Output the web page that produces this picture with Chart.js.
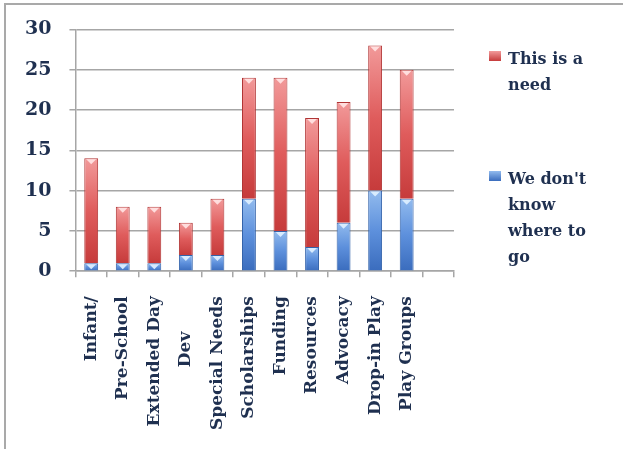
<!DOCTYPE html>
<html>
<head>
<meta charset="utf-8">
<script src="https://cdn.jsdelivr.net/npm/chart.js@4.4.1/dist/chart.umd.min.js"></script>
<style>
    html, body { margin: 0; padding: 0; background: #fff; }
    #wrap { position: relative; width: 623px; height: 449px; overflow: hidden; }
    #frame {
        position: absolute; left: 4px; top: 3px; width: 640px; height: 444px;
        border-top: 2px solid #a9a9a9; border-left: 2px solid #a9a9a9;
        border-bottom: 1px solid #dedede; pointer-events: none;
    }
    #legend {
        position: absolute; left: 489px; top: 46px; width: 110px;
        font-family: 'DejaVu Serif', serif; font-weight: bold; font-size: 16px;
        color: #1f3050; line-height: 26px;
    }
    .item { position: relative; padding-left: 19px; width: 92px; }
    .item + .item { margin-top: 68px; }
    .swatch { position: absolute; left: 0; top: 5px; width: 12px; height: 10px; }
</style>
</head>
<body>
<div id="wrap">
    <canvas id="chart"></canvas>
    <div id="legend"></div>
    <div id="frame"></div>
</div>
<script>
// Kategori survei (slot terakhir sengaja kosong)
const categories = ['Infant/', 'Pre-School', 'Extended Day', 'Dev\u00a0\u00a0\u00a0\u00a0\u00a0\u00a0', 'Special Needs',
    'Scholarships', 'Funding', 'Resources', 'Advocacy', 'Drop-in Play', 'Play Groups', ''];
const dontKnow = [1, 1, 1, 2, 2, 9, 5, 3, 6, 10, 9, null];
const isNeed = [13, 7, 7, 4, 7, 15, 19, 16, 15, 18, 16, null];
const yTicks = [0, 5, 10, 15, 20, 25, 30];

const textColor = '#1f3050';
const gridColor = '#a6a6a6';

// Gradasi vertikal per segmen batang: terang di atas, gelap di bawah
function segmentFill(ctx, stops, lower, upper) {
    const chart = ctx.chart;
    const y = chart.scales.y;
    const fallback = stops[stops.length - 1];
    if (!chart.chartArea || !y || ctx.type !== 'data') return fallback;
    const i = ctx.dataIndex;
    const start = lower ? lower[i] : 0;
    const top = y.getPixelForValue(start + upper[i]);
    const bottom = y.getPixelForValue(start);
    if (!isFinite(top) || !isFinite(bottom) || top === bottom) return fallback;
    const g = chart.ctx.createLinearGradient(0, top, 0, bottom);
    stops.forEach((c, k) => g.addColorStop(k / (stops.length - 1), c));
    return g;
}

const blueStops = ['#92bbee', '#5d90dc', '#3a6cbd'];
const redStops = ['#f29a9a', '#df5c5c', '#c63b3b'];

// Segitiga kecil di ujung atas tiap segmen
const bevelPlugin = {
    id: 'bevel',
    afterDatasetsDraw(chart) {
        const c = chart.ctx;
        const tints = ['rgba(220,238,255,0.95)', 'rgba(255,225,225,0.95)'];
        chart.data.datasets.forEach((ds, di) => {
            const meta = chart.getDatasetMeta(di);
            meta.data.forEach((bar, i) => {
                if (ds.data[i] == null) return;
                const p = bar.getProps(['x', 'y', 'width'], true);
                const half = p.width / 2 - 2;
                c.save();
                c.fillStyle = tints[di];
                c.beginPath();
                c.moveTo(p.x - half, p.y + 1);
                c.lineTo(p.x + half, p.y + 1);
                c.lineTo(p.x, p.y + 6);
                c.closePath();
                c.fill();
                c.restore();
            });
        });
    }
};

const canvas = document.getElementById('chart');
canvas.width = 623;
canvas.height = 449;

const chart = new Chart(canvas, {
    type: 'bar',
    data: {
        labels: categories,
        datasets: [
            {
                label: "We don't know where to go",
                data: dontKnow,
                backgroundColor: ctx => segmentFill(ctx, blueStops, null, dontKnow),
                borderColor: '#3463aa',
                borderWidth: 1,
                swatch: 'linear-gradient(#92bbee, #3a6cbd)'
            },
            {
                label: 'This is a need',
                data: isNeed,
                backgroundColor: ctx => segmentFill(ctx, redStops, dontKnow, isNeed),
                borderColor: '#b03535',
                borderWidth: 1,
                swatch: 'linear-gradient(#f29a9a, #c63b3b)'
            }
        ]
    },
    options: {
        responsive: false,
        animation: false,
        barPercentage: 0.44,
        categoryPercentage: 1,
        layout: { padding: { left: 7, right: 169, top: 27, bottom: 0 } },
        plugins: {
            legend: { display: false },
            tooltip: { enabled: false }
        },
        scales: {
            x: {
                stacked: true,
                offset: true,
                grid: {
                    offset: true,
                    drawOnChartArea: false,
                    color: gridColor,
                    lineWidth: 1.5,
                    tickLength: 6
                },
                border: { color: gridColor, width: 1.5 },
                ticks: {
                    autoSkip: false,
                    maxRotation: 90,
                    minRotation: 90,
                    padding: 19,
                    color: textColor,
                    font: { family: 'DejaVu Serif', weight: 'bold', size: 17 }
                }
            },
            y: {
                stacked: true,
                min: 0,
                max: 30,
                afterBuildTicks: axis => { axis.ticks = yTicks.map(v => ({ value: v })); },
                grid: { color: gridColor, lineWidth: 1.5, tickLength: 6 },
                border: { color: gridColor, width: 1.5 },
                ticks: {
                    padding: 18,
                    color: textColor,
                    font: { family: 'DejaVu Serif', weight: 'bold', size: 19 }
                }
            }
        }
    },
    plugins: [bevelPlugin]
});

// Legenda HTML dengan teks terbungkus, urutan dibalik seperti tumpukan
const legend = document.getElementById('legend');
chart.data.datasets.slice().reverse().forEach(ds => {
    const item = document.createElement('div');
    item.className = 'item';
    item.innerHTML = `<span class="swatch" style="background:${ds.swatch}"></span>${ds.label}`;
    legend.appendChild(item);
});
</script>
</body>
</html>
